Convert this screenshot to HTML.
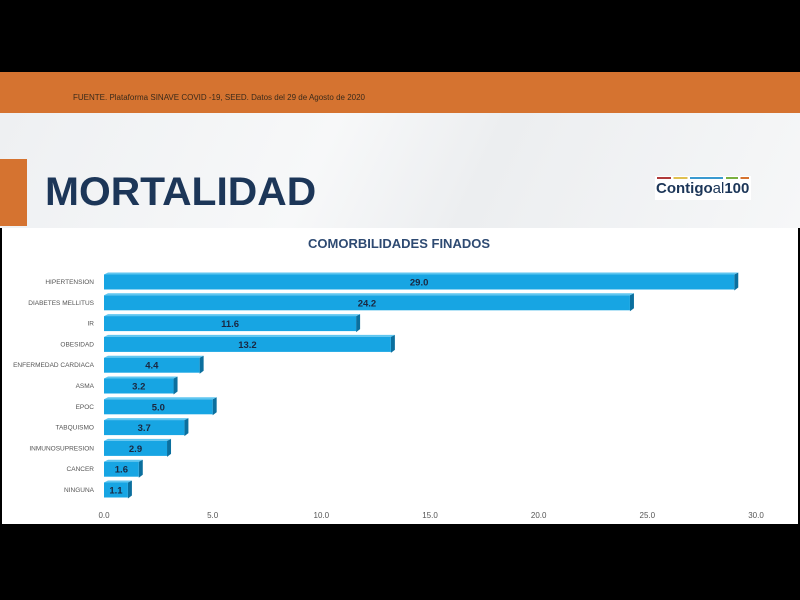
<!DOCTYPE html>
<html><head><meta charset="utf-8"><style>
body{margin:0;width:800px;height:600px;background:#000;position:relative;overflow:hidden;font-family:"Liberation Sans",sans-serif}
.abs{position:absolute}
</style></head><body>
<div class="abs" style="left:0;top:72px;width:800px;height:41px;background:#d57330"></div>
<div class="abs" style="left:73px;top:93px;font-size:8px;color:#3a2a1a">FUENTE. Plataforma SINAVE COVID -19, SEED. Datos del 29 de Agosto de 2020</div>
<div class="abs" style="left:0;top:113px;width:800px;height:115px;background:linear-gradient(115deg,#eef0f2,#f7f8f9 40%,#eceef0 60%,#f6f7f8)"></div>
<div class="abs" style="left:0;top:159px;width:27px;height:67px;background:#d57330"></div>
<div class="abs" style="left:45px;top:170px;font-size:40px;font-weight:bold;color:#1c3658;transform:scaleX(1.02);transform-origin:left">MORTALIDAD</div>
<div class="abs" style="left:655px;top:176px;width:96px;height:24px;background:#fff">
 <div style="height:2px;margin:1px 2px;background:linear-gradient(90deg,#b03a3a 0 15%,#fff 15% 18%,#e0c050 18% 33%,#fff 33% 36%,#3a9ad0 36% 72%,#fff 72% 75%,#7ab040 75% 88%,#fff 88% 91%,#d57330 91%)"></div>
 <div style="font-size:15px;font-weight:bold;color:#1c3658;line-height:18px;padding-left:1px">Contigo<span style="font-weight:normal">al</span>100</div>
</div>
<div class="abs" style="left:2px;top:228px;width:796px;height:296px;background:#fff"></div>
<svg class="abs" style="left:0;top:0" width="800" height="600">
<text x="399" y="248" text-anchor="middle" font-size="13" font-weight="bold" fill="#2e4a72">COMORBILIDADES FINADOS</text>
<g id="bars"></g><g id="axis"></g>
</svg>
<script>
const categories=["HIPERTENSION","DIABETES MELLITUS","IR","OBESIDAD","ENFERMEDAD CARDIACA","ASMA","EPOC","TABQUISMO","INMUNOSUPRESION","CANCER","NINGUNA"];
const values=[29.0,24.2,11.6,13.2,4.4,3.2,5.0,3.7,2.9,1.6,1.1];
const ticks=[0,5,10,15,20,25,30];
const x0=104,x1=756,xmax=30;
const xs=v=>x0+(x1-x0)*v/xmax;
const ys=i=>281+i*20.8;
const ns="http://www.w3.org/2000/svg";
const bg=document.getElementById('bars'),ag=document.getElementById('axis');
function mk(t,a,p){const e=document.createElementNS(ns,t);for(const k in a)e.setAttribute(k,a[k]);p.appendChild(e);return e;}
categories.forEach((c,i)=>{
 const y=ys(i),w=xs(values[i])-x0,h=17,d=4;
 const g=mk('g',{},bg);
 
 
 mk('polygon',{points:`${x0+w},${y-h/2+d/2} ${x0+w+d},${y-h/2-d/2+2} ${x0+w+d},${y+h/2-d/2} ${x0+w},${y+h/2+d/2-1}`,fill:'#0b6f9e'},g);
 mk('polygon',{points:`${x0},${y-h/2+d/2} ${x0+d},${y-h/2-d/2+2} ${x0+w+d},${y-h/2-d/2+2} ${x0+w},${y-h/2+d/2}`,fill:'#5fc6f0'},g);
 mk('rect',{x:x0,y:y-h/2+d/2,width:w,height:h-2,fill:'#17a5e3'},g);
 const vt=mk('text',{x:x0+w/2,y:y+4.5,'text-anchor':'middle','font-size':9.5,'font-weight':'bold',fill:'#1a2740'},g);
 vt.textContent=values[i].toFixed(1);
 const lt=mk('text',{x:94,y:y+3,'text-anchor':'end','font-size':6.5,fill:'#555'},ag);
 
 
 lt.textContent=c;
});
ticks.forEach(t=>{
 const tt=mk('text',{x:xs(t),y:518,'text-anchor':'middle','font-size':8,fill:'#555'},ag);
 
 
 tt.textContent=t.toFixed(1);
});
</script>
</body></html>
